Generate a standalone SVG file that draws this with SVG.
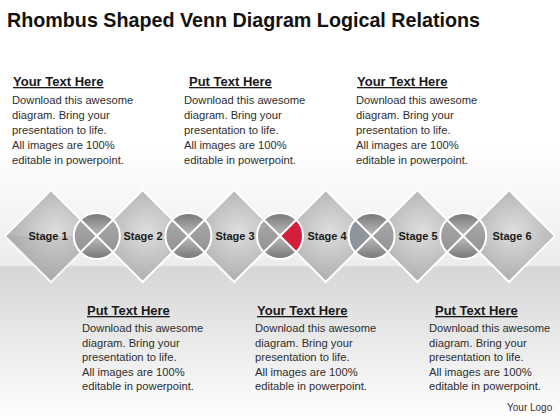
<svg xmlns="http://www.w3.org/2000/svg" width="560" height="420" viewBox="0 0 560 420">
<defs>
  <linearGradient id="bgTop" x1="0" y1="0" x2="0" y2="1">
    <stop offset="0" stop-color="#ffffff"/>
    <stop offset="0.55" stop-color="#ffffff"/>
    <stop offset="1" stop-color="#ececec"/>
  </linearGradient>
  <linearGradient id="bgBot" x1="0" y1="0" x2="0" y2="1">
    <stop offset="0" stop-color="#d6d6d6"/>
    <stop offset="0.35" stop-color="#e4e4e4"/>
    <stop offset="1" stop-color="#ffffff"/>
  </linearGradient>
  <radialGradient id="dia" cx="0.55" cy="0.45" r="0.62">
    <stop offset="0" stop-color="#dedede"/>
    <stop offset="1" stop-color="#a8a8a8"/>
  </radialGradient>
  <linearGradient id="qTop" x1="0" y1="0" x2="0" y2="1">
    <stop offset="0" stop-color="#777777"/>
    <stop offset="1" stop-color="#bdbdbd"/>
  </linearGradient>
  <linearGradient id="qBot" x1="0" y1="1" x2="0" y2="0">
    <stop offset="0" stop-color="#777777"/>
    <stop offset="1" stop-color="#bdbdbd"/>
  </linearGradient>
  <linearGradient id="qSide" x1="0" y1="0" x2="0" y2="1">
    <stop offset="0" stop-color="#a8a8a8"/>
    <stop offset="1" stop-color="#939393"/>
  </linearGradient>
  <g id="circ">
    <path d="M0,0 L-16.3,-16.3 A23,23 0 0 1 16.3,-16.3 Z" fill="url(#qTop)"/>
    <path d="M0,0 L16.3,16.3 A23,23 0 0 1 -16.3,16.3 Z" fill="url(#qBot)"/>
    <path d="M0,0 L-16.3,16.3 A23,23 0 0 1 -16.3,-16.3 Z" fill="url(#qSide)"/>
    <path d="M0,0 L16.3,-16.3 A23,23 0 0 1 16.3,16.3 Z" fill="url(#qSide)"/>
  </g>
  <g id="circLines">
    <circle r="23" fill="none" stroke="#ffffff" stroke-width="2"/>
    <path d="M-16.3,-16.3 L16.3,16.3 M16.3,-16.3 L-16.3,16.3" stroke="#ffffff" stroke-width="2"/>
  </g>
</defs>
<style>
  .title{font-family:"Liberation Sans",Arial,sans-serif;font-weight:bold;font-size:21px;fill:#111}
  .hd{font-family:"Liberation Sans",Arial,sans-serif;font-weight:bold;font-size:13px;fill:#1a1a1a;text-decoration:underline}
  .bd{font-family:"Liberation Sans",Arial,sans-serif;font-size:11.2px;fill:#2e2e2e}
  .st{font-family:"Liberation Sans",Arial,sans-serif;font-weight:bold;font-size:11px;fill:#1a1a1a;text-anchor:middle}
  .dia{fill:url(#dia);stroke:#ffffff;stroke-width:2;stroke-linejoin:miter}
  .logo{font-family:"Liberation Sans",Arial,sans-serif;font-size:10px;fill:#333}
</style>
<rect x="0" y="0" width="560" height="266" fill="url(#bgTop)"/>
<rect x="0" y="266" width="560" height="154" fill="url(#bgBot)"/>
<line x1="0" y1="266" x2="560" y2="266" stroke="#e8e8e8" stroke-width="1"/>

<text class="title" x="7" y="27" textLength="473" lengthAdjust="spacingAndGlyphs">Rhombus Shaped Venn Diagram Logical Relations</text>

<g id="text-top-1">
  <text class="hd" x="13" y="86">Your Text Here</text>
  <text class="bd" x="12" y="104">Download this awesome</text>
  <text class="bd" x="12" y="119">diagram. Bring your</text>
  <text class="bd" x="12" y="134">presentation to life.</text>
  <text class="bd" x="12" y="149">All images are 100%</text>
  <text class="bd" x="12" y="164">editable in powerpoint.</text>
</g>
<g id="text-top-2">
  <text class="hd" x="189" y="86">Put Text Here</text>
  <text class="bd" x="184" y="104">Download this awesome</text>
  <text class="bd" x="184" y="119">diagram. Bring your</text>
  <text class="bd" x="184" y="134">presentation to life.</text>
  <text class="bd" x="184" y="149">All images are 100%</text>
  <text class="bd" x="184" y="164">editable in powerpoint.</text>
</g>
<g id="text-top-3">
  <text class="hd" x="357" y="86">Your Text Here</text>
  <text class="bd" x="356" y="104">Download this awesome</text>
  <text class="bd" x="356" y="119">diagram. Bring your</text>
  <text class="bd" x="356" y="134">presentation to life.</text>
  <text class="bd" x="356" y="149">All images are 100%</text>
  <text class="bd" x="356" y="164">editable in powerpoint.</text>
</g>

<g id="connectors"></g>

<g id="stage1"><polygon class="dia" points="51,190 97,236 51,282 5,236"/><path d="M5,236 L97,236 L51,282 Z" fill="#8f8f8f" opacity="0.2"/><text class="st" x="48" y="240">Stage 1</text></g>
<g id="stage2"><polygon class="dia" points="142.6,190 188.6,236 142.6,282 96.6,236"/><text class="st" x="143" y="240">Stage 2</text></g>
<g id="stage3"><polygon class="dia" points="234.2,190 280.2,236 234.2,282 188.2,236"/><text class="st" x="235" y="240">Stage 3</text></g>
<g id="stage4"><polygon class="dia" points="325.8,190 371.8,236 325.8,282 279.8,236"/><text class="st" x="327" y="240">Stage 4</text></g>
<g id="stage5"><polygon class="dia" points="417.4,190 463.4,236 417.4,282 371.4,236"/><text class="st" x="418" y="240">Stage 5</text></g>
<g id="stage6"><polygon class="dia" points="509,190 555,236 509,282 463,236"/><text class="st" x="512" y="240">Stage 6</text></g>

<g id="circle1" transform="translate(96.8,236)"><use href="#circ"/><use href="#circLines"/></g>
<g id="circle2" transform="translate(188.4,236)"><use href="#circ"/><use href="#circLines"/></g>
<g id="circle3" transform="translate(280,236)"><use href="#circ"/><path d="M0,0 L16.3,-16.3 A23,23 0 0 1 16.3,16.3 Z" fill="#d31f3a"/><use href="#circLines"/></g>
<g id="circle4" transform="translate(371.6,236)"><use href="#circ"/><path d="M0,0 L-16.3,16.3 A23,23 0 0 1 -16.3,-16.3 Z" fill="#8e959c"/><use href="#circLines"/></g>
<g id="circle5" transform="translate(463.2,236)"><use href="#circ"/><use href="#circLines"/></g>

<g id="text-bot-1">
  <text class="hd" x="87" y="315">Put Text Here</text>
  <text class="bd" x="82" y="332">Download this awesome</text>
  <text class="bd" x="82" y="346.5">diagram. Bring your</text>
  <text class="bd" x="82" y="361">presentation to life.</text>
  <text class="bd" x="82" y="375.5">All images are 100%</text>
  <text class="bd" x="82" y="390">editable in powerpoint.</text>
</g>
<g id="text-bot-2">
  <text class="hd" x="257" y="315">Your Text Here</text>
  <text class="bd" x="255" y="332">Download this awesome</text>
  <text class="bd" x="255" y="346.5">diagram. Bring your</text>
  <text class="bd" x="255" y="361">presentation to life.</text>
  <text class="bd" x="255" y="375.5">All images are 100%</text>
  <text class="bd" x="255" y="390">editable in powerpoint.</text>
</g>
<g id="text-bot-3">
  <text class="hd" x="435" y="315">Put Text Here</text>
  <text class="bd" x="429" y="332">Download this awesome</text>
  <text class="bd" x="429" y="346.5">diagram. Bring your</text>
  <text class="bd" x="429" y="361">presentation to life.</text>
  <text class="bd" x="429" y="375.5">All images are 100%</text>
  <text class="bd" x="429" y="390">editable in powerpoint.</text>
</g>
<text class="logo" x="507" y="411">Your Logo</text>
</svg>
